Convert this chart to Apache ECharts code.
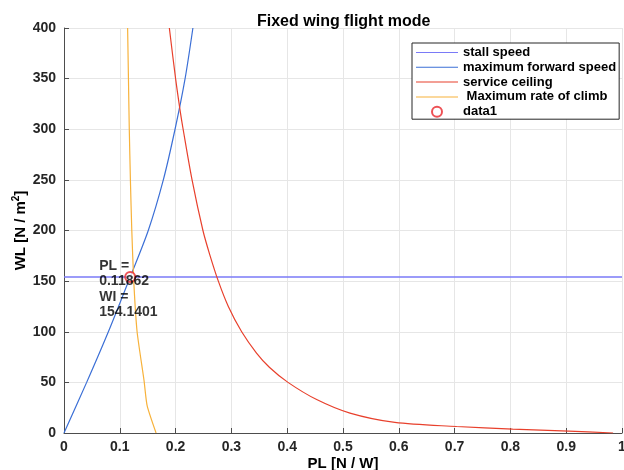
<!DOCTYPE html>
<html>
<head>
<meta charset="utf-8">
<script src="https://cdn.jsdelivr.net/npm/echarts@6/dist/echarts.min.js"></script>
<style>
  html, body { margin: 0; padding: 0; background: #ffffff; }
  #chart { width: 624px; height: 470px; }
</style>
</head>
<body>
<div id="chart"></div>
<script>
// values (PL on x, WL on y)
const stallPL = [0, 1];
const stallWL = [154.1401, 154.1401];

const fwdPL = [0, 0.0406, 0.0795, 0.11862, 0.151, 0.178, 0.199, 0.217, 0.231];
const fwdWL = [0, 50, 100, 154.1401, 200, 250, 300, 350, 400];

const ceilPL = [0.1888, 0.2, 0.2085, 0.2135, 0.2295, 0.249, 0.2613, 0.2766, 0.2945, 0.3184,
  0.345, 0.368, 0.4014, 0.4528, 0.5125, 0.593, 0.7037, 0.804, 0.9045, 0.984];
const ceilWL = [400, 350, 317, 300, 250, 200, 176, 150, 125, 100,
  79, 65, 50, 33, 19.6, 10.4, 6.4, 3.8, 1.8, 0];

const climbPL = [0.114, 0.1155, 0.117, 0.119, 0.1215, 0.125, 0.131, 0.1434, 0.149, 0.165];
const climbWL = [400, 350, 300, 250, 200, 150, 100, 52, 27, 0];

const pointPL = [0.11862];
const pointWL = [154.1401];

const xTicks = [0, 1, 0.1];
const yTicks = [0, 400, 50];

const zip = (xs, ys) => xs.map((x, i) => [x, ys[i]]);

const font = '"Liberation Sans", Arial, sans-serif';
const axisColor = "#4d4d4d";
const textColor = "#262626";
// thin bar used as the legend sample for line series
const lineIcon = "path://M0,0 L42,0 L42,1 L0,1 Z";

const myChart = echarts.init(document.getElementById("chart"));

const option = {
  animation: false,
  backgroundColor: "#ffffff",
  textStyle: { fontFamily: font },
  title: {
    text: "Fixed wing flight mode",
    left: 257,
    top: 14,
    padding: 0,
    textStyle: { fontFamily: font, fontSize: 16, fontWeight: "bold", color: "#000000" }
  },
  grid: {
    left: 64,
    right: 2,
    top: 28,
    bottom: 37,
    containLabel: false,
    outerBoundsMode: "none"
  },
  legend: {
    orient: "vertical",
    left: 412,
    top: 43,
    padding: [3, 3, 1, 4],
    itemWidth: 42,
    itemHeight: 10,
    itemGap: 1.8,
    itemTextGap: 5,
    backgroundColor: "#ffffff",
    borderColor: "#262626",
    borderWidth: 1,
    borderRadius: 0,
    textStyle: { fontFamily: font, fontSize: 13, fontWeight: "bold", color: "#000000", lineHeight: 13 },
    data: [
      { name: "stall speed", icon: lineIcon },
      { name: "maximum forward speed", icon: lineIcon },
      { name: "service ceiling", icon: lineIcon },
      { name: " Maximum rate of climb", icon: lineIcon },
      { name: "data1", icon: "emptyCircle" }
    ]
  },
  xAxis: {
    type: "value",
    min: xTicks[0],
    max: xTicks[1],
    interval: xTicks[2],
    name: "PL [N / W]",
    nameLocation: "middle",
    nameGap: 23,
    nameMoveOverlap: false,
    nameTextStyle: { fontFamily: font, fontSize: 15, fontWeight: "bold", color: "#000000" },
    axisLine: { show: true, lineStyle: { color: axisColor, width: 1 } },
    axisTick: { show: true, inside: true, length: 5, lineStyle: { color: axisColor } },
    axisLabel: { fontFamily: font, fontSize: 14, fontWeight: "bold", color: textColor, margin: 7 },
    splitLine: { show: true, lineStyle: { color: "#e6e6e6", width: 1 } }
  },
  yAxis: {
    type: "value",
    min: yTicks[0],
    max: yTicks[1],
    interval: yTicks[2],
    name: "WL [N / m{sup|2}]",
    nameLocation: "middle",
    nameGap: 33,
    nameMoveOverlap: false,
    nameTextStyle: {
      fontFamily: font, fontSize: 15, fontWeight: "bold", color: "#000000", lineHeight: 20,
      rich: {
        sup: { fontFamily: font, fontSize: 10, fontWeight: "bold", color: "#000000", lineHeight: 10, verticalAlign: "top" }
      }
    },
    axisLine: { show: true, lineStyle: { color: axisColor, width: 1 } },
    axisTick: { show: true, inside: true, length: 5, lineStyle: { color: axisColor } },
    axisLabel: { fontFamily: font, fontSize: 14, fontWeight: "bold", color: textColor, margin: 8 },
    splitLine: { show: true, lineStyle: { color: "#e6e6e6", width: 1 } }
  },
  series: [
    {
      name: "stall speed",
      type: "line",
      data: zip(stallPL, stallWL),
      symbol: "none",
      color: "#7a7af7",
      lineStyle: { width: 1.6, color: "#7a7af7" }
    },
    {
      name: "maximum forward speed",
      type: "line",
      data: zip(fwdPL, fwdWL),
      symbol: "none",
      smooth: 0.3,
      color: "#3b6fd6",
      lineStyle: { width: 1.2, color: "#3b6fd6" }
    },
    {
      name: "service ceiling",
      type: "line",
      data: zip(ceilPL, ceilWL),
      symbol: "none",
      smooth: 0.3,
      color: "#e8402c",
      lineStyle: { width: 1.2, color: "#e8402c" }
    },
    {
      name: " Maximum rate of climb",
      type: "line",
      data: zip(climbPL, climbWL),
      symbol: "none",
      smooth: 0.2,
      color: "#f7b23b",
      lineStyle: { width: 1.2, color: "#f7b23b" }
    },
    {
      name: "data1",
      type: "scatter",
      data: zip(pointPL, pointWL),
      symbol: "emptyCircle",
      symbolSize: 10,
      z: 5,
      itemStyle: { color: "#e8262b", borderColor: "#e8262b", borderWidth: 1.3 },
      label: {
        show: true,
        position: [-25, -12.5],
        align: "left",
        verticalAlign: "top",
        fontFamily: font,
        fontSize: 14,
        fontWeight: "bold",
        lineHeight: 15.3,
        color: "#000000",
        formatter: "PL =\n0.11862\nWI =\n154.1401"
      }
    }
  ]
};

myChart.setOption(option);
</script>
</body>
</html>
